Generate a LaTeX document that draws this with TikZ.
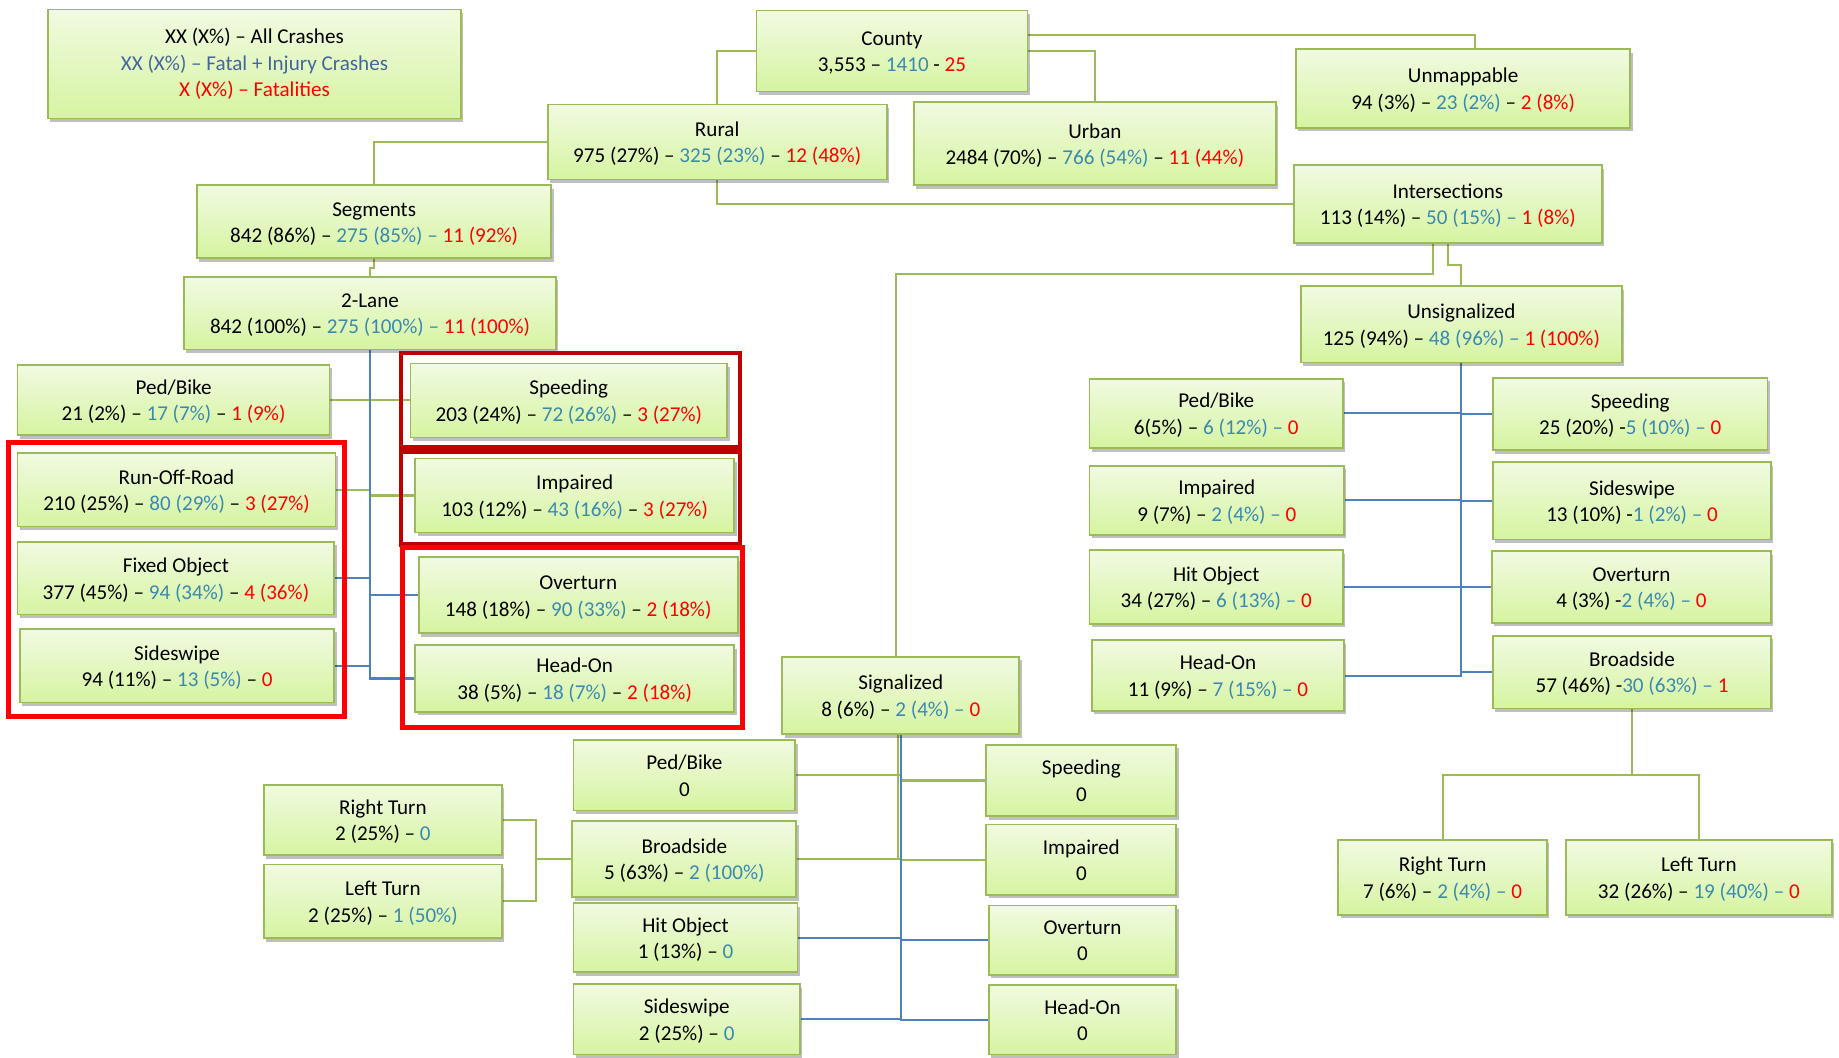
\documentclass[tikz,border=0pt]{standalone}
\usepackage{fontspec}
\setmainfont{Carlito}
\usetikzlibrary{shadows,backgrounds,calc}
\definecolor{boxborder}{HTML}{9BBB59}
\definecolor{boxtop}{HTML}{F1FAE2}
\definecolor{boxbot}{HTML}{D6F4A0}
\definecolor{gline}{HTML}{9BBB59}
\definecolor{bline}{HTML}{4F81BD}
\definecolor{numblue}{HTML}{3A8AB0}
\definecolor{legblue}{HTML}{44669F}
\definecolor{fred}{HTML}{FF0000}
\definecolor{dred}{HTML}{C00000}
\newcommand\bluetxt[1]{\textcolor{numblue}{#1}}
\newcommand\redtxt[1]{\textcolor{fred}{#1}}
\newcommand\bx[7][]{%
  \pgfmathsetmacro\bxw{#5-#3}\pgfmathsetmacro\bxh{#6-#4}%
  \pgfmathsetmacro\bxcx{(#3+#5)/2}\pgfmathsetmacro\bxcy{(#4+#6)/2}%
  \node[box,minimum width=\bxw pt,minimum height=\bxh pt,#1] (#2) at (\bxcx,\bxcy) {#7};}
\tikzset{
  box/.style={draw=boxborder, line width=1.5pt, top color=boxtop, bottom color=boxbot,
    inner sep=0pt, align=center, font=\fontsize{18}{22.5}\selectfont,
    text height=37.5pt, text depth=2pt,
    drop shadow={shadow xshift=2pt, shadow yshift=-3pt, opacity=0.25, fill=black}},
  gconn/.style={draw=gline, line width=1.8pt},
  bconn/.style={draw=bline, line width=1.8pt},
  redframe/.style={draw=fred, line width=4pt},
  dredframe/.style={draw=dred, line width=4pt}
}
\begin{document}
\begin{tikzpicture}[x=1pt,y=-1pt]
\begin{pgfonlayer}{background}
\fill[white] (0,0) rectangle (1568,902);
\end{pgfonlayer}
\useasboundingbox (0,0) rectangle (1568,902);

% top
\bx[text height=60pt,text depth=4pt]{legend}{41}{8}{393}{101}{XX (X\%) – All Crashes\\\textcolor{legblue}{XX (X\%) – Fatal + Injury Crashes}\\\redtxt{X (X\%) – Fatalities}}
\bx{county}{645}{9}{876}{78}{County\\3,553 – \bluetxt{1410} - \redtxt{25}}
\bx{unmap}{1105}{42}{1390}{109}{Unmappable\\94 (3\%) – \bluetxt{23 (2\%)} – \redtxt{2 (8\%)}}
\bx{rural}{467}{89}{756}{153}{Rural\\975 (27\%) – \bluetxt{325 (23\%)} – \redtxt{12 (48\%)}}
\bx{urban}{779}{87}{1088}{158}{Urban\\2484 (70\%) – \bluetxt{766 (54\%)} – \redtxt{11 (44\%)}}
\bx{inter}{1103}{141}{1366}{207}{Intersections\\113 (14\%) – \bluetxt{50 (15\%) –} \redtxt{1 (8\%)}}
\bx{seg}{168}{158}{470}{220}{Segments\\842 (86\%) – \bluetxt{275 (85\%) –} \redtxt{11 (92\%)}}
\bx{lane}{157}{236}{474}{298}{2-Lane\\842 (100\%) – \bluetxt{275 (100\%) –} \redtxt{11 (100\%)}}
\bx{unsig}{1109}{244}{1383}{309}{Unsignalized\\125 (94\%) – \bluetxt{48 (96\%) –} \redtxt{1 (100\%)}}

% left (segments)
\bx{pbL}{15}{311}{281}{371}{Ped/Bike\\21 (2\%) – \bluetxt{17 (7\%)} – \redtxt{1 (9\%)}}
\bx{spdL}{350}{310}{620}{373}{Speeding\\203 (24\%) – \bluetxt{72 (26\%)} – \redtxt{3 (27\%)}}
\bx{ror}{15}{386}{286}{449}{Run-Off-Road\\210 (25\%) – \bluetxt{80 (29\%)} – \redtxt{3 (27\%)}}
\bx{impL}{354}{391}{626}{454}{Impaired\\103 (12\%) – \bluetxt{43 (16\%)} – \redtxt{3 (27\%)}}
\bx{fo}{15}{462}{285}{524}{Fixed Object\\377 (45\%) – \bluetxt{94 (34\%)} – \redtxt{4 (36\%)}}
\bx{ovtL}{357}{475}{629}{540}{Overturn\\148 (18\%) – \bluetxt{90 (33\%)} – \redtxt{2 (18\%)}}
\bx{ssL}{17}{536}{285}{599}{Sideswipe\\94 (11\%) – \bluetxt{13 (5\%)} – \redtxt{0}}
\bx{hoL}{354}{550}{626}{607}{Head-On\\38 (5\%) – \bluetxt{18 (7\%)} – \redtxt{2 (18\%)}}

% right (unsignalized)
\bx{pbR}{929}{323}{1145}{382}{Ped/Bike\\6(5\%) – \bluetxt{6 (12\%) –} \redtxt{0}}
\bx{impR}{929}{397}{1146}{456}{Impaired\\9 (7\%) – \bluetxt{2 (4\%) –} \redtxt{0}}
\bx{hitR}{929}{469}{1145}{532}{Hit Object\\34 (27\%) – \bluetxt{6 (13\%) –} \redtxt{0}}
\bx{hoR}{931}{546}{1146}{606}{Head-On\\11 (9\%) – \bluetxt{7 (15\%) –} \redtxt{0}}
\bx{spdR}{1273}{322}{1507}{384}{Speeding\\25 (20\%) -\bluetxt{5 (10\%) –} \redtxt{0}}
\bx{ssR}{1273}{394}{1510}{460}{Sideswipe\\13 (10\%) -\bluetxt{1 (2\%) –} \redtxt{0}}
\bx{ovtR}{1272}{470}{1510}{531}{Overturn\\4 (3\%) -\bluetxt{2 (4\%) –} \redtxt{0}}
\bx{bsR}{1273}{542}{1510}{604}{Broadside\\57 (46\%) -\bluetxt{30 (63\%) –} \redtxt{1}}
\bx{rtR}{1141}{716}{1319}{780}{Right Turn\\7 (6\%) – \bluetxt{2 (4\%) –} \redtxt{0}}
\bx{ltR}{1335}{716}{1562}{780}{Left Turn\\32 (26\%) – \bluetxt{19 (40\%) –} \redtxt{0}}

% signalized
\bx{sig}{667}{560}{869}{626}{Signalized\\8 (6\%) – \bluetxt{2 (4\%) –} \redtxt{0}}
\bx{pbS}{489}{631}{678}{691}{Ped/Bike\\0}
\bx{bsS}{488}{700}{679}{765}{Broadside\\5 (63\%) – \bluetxt{2 (100\%)}}
\bx{hitS}{489}{770}{680}{829}{Hit Object\\1 (13\%) – \bluetxt{0}}
\bx{ssS}{489}{839}{682}{899}{Sideswipe\\2 (25\%) – \bluetxt{0}}
\bx{spdS}{841}{635}{1003}{696}{Speeding\\0}
\bx{impS}{841}{703}{1003}{763}{Impaired\\0}
\bx{ovtS}{843}{772}{1003}{831}{Overturn\\0}
\bx{hoS}{843}{840}{1003}{899}{Head-On\\0}
\bx{rtS}{225}{669}{428}{729}{Right Turn\\2 (25\%) – \bluetxt{0}}
\bx{ltS}{225}{737}{428}{800}{Left Turn\\2 (25\%) – \bluetxt{1 (50\%)}}

% red frames
\draw[dredframe] (342,301) rectangle (631,381);
\draw[dredframe] (342,385) rectangle (631,464);
\draw[redframe] (7,377) rectangle (294,611);
\draw[redframe] (343,467) rectangle (633,620);

\begin{pgfonlayer}{background}
% top tree
\draw[gconn] (county.west) -| (rural.north);
\draw[gconn] (county.east) -| (urban.north);
\draw[gconn] ([yshift=13.5pt]county.east) -| ([xshift=10pt]unmap.north);
\draw[gconn] (rural.west) -| (seg.north);
\draw[gconn] (rural.south) |- (inter.west);
\draw[gconn] (seg.south) -- ++(0,8) -| (lane.north);
\draw[gconn] (inter.south) -- ++(0,18) -| (unsig.north);
\draw[gconn] ([xshift=-12.5pt]inter.south) -- ++(0,26) -| ([xshift=-4pt]sig.north);

% segments trunk
\draw[gconn] (pbL.east) -- (pbL.east -| spdL.west);
\draw[gconn] (ror.east) -- (ror.east -| lane.south);
\draw[gconn] (impL.west -| lane.south) -- (impL.west);
\draw[bconn] (lane.south) |- (hoL.west);
\draw[bconn] (fo.east) -- (fo.east -| lane.south);
\draw[bconn] (ovtL.west -| lane.south) -- (ovtL.west);
\draw[bconn] (ssL.east) -- (ssL.east -| lane.south);

% unsignalized trunk
\draw[bconn] (unsig.south) |- (hoR.east);
\draw[bconn] (pbR.east) -- (pbR.east -| unsig.south);
\draw[bconn] (impR.east) -- (impR.east -| unsig.south);
\draw[bconn] (hitR.east) -- (hitR.east -| unsig.south);
\draw[bconn] (spdR.west -| unsig.south) -- (spdR.west);
\draw[bconn] (ssR.west -| unsig.south) -- (ssR.west);
\draw[bconn] (ovtR.west -| unsig.south) -- (ovtR.west);
\draw[bconn] (bsR.west -| unsig.south) -- (bsR.west);
\coordinate (bj) at ($(bsR.south)+(0,56)$);
\draw[gconn] (bsR.south) -- (bj);
\draw[gconn] (rtR.north) |- (bj) -| (ltR.north);

% signalized trunk
\draw[gconn] ([xshift=-2pt]sig.south) |- ([xshift=-2pt]sig.south |- bsS.east);
\draw[gconn] (pbS.east) -- (pbS.east -| sig.south);
\draw[gconn] (spdS.west -| sig.south) -- (spdS.west);
\draw[gconn] (bsS.east) -- (bsS.east -| sig.south);
\draw[gconn] (impS.west -| sig.south) -- (impS.west);
\draw[bconn] (sig.south) |- (hoS.west);
\draw[bconn] (hitS.east) -- (hitS.east -| sig.south);
\draw[bconn] (ovtS.west -| sig.south) -- (ovtS.west);
\draw[bconn] (ssS.east) -- (ssS.east -| sig.south);
\coordinate (sj) at ($(bsS.west)+(-30,0)$);
\draw[gconn] (rtS.east) -| (sj) |- (ltS.east);
\draw[gconn] (sj) -- (bsS.west);
\end{pgfonlayer}
\end{tikzpicture}
\end{document}
